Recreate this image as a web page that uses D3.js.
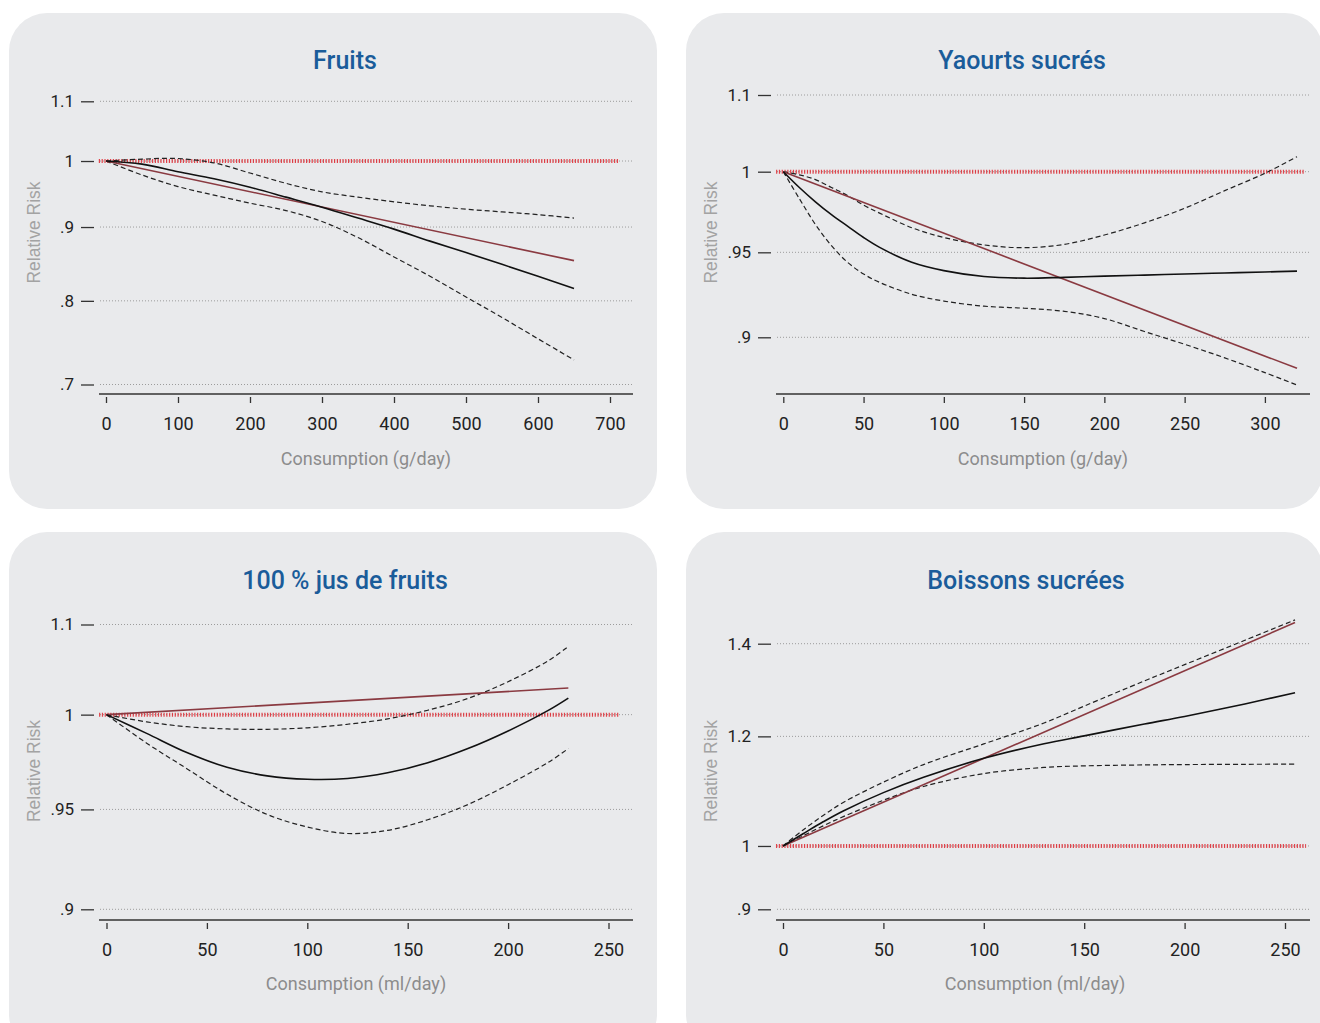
<!DOCTYPE html>
<html>
<head>
<meta charset="utf-8">
<script src="https://cdn.jsdelivr.net/npm/d3@7"></script>
<style>
  html, body { margin: 0; padding: 0; background: #ffffff; }
  svg { display: block; }
</style>
</head>
<body>
<svg id="chart" width="1320" height="1023"></svg>
<script>
// ---------------- DATA ----------------
// Fruits (g/day)
const fruitsTitle = "Fruits";
const fruitsXLabel = "Consumption (g/day)";
const fruitsX    = [0, 50, 100, 150, 200, 250, 300, 350, 400, 450, 500, 550, 600, 650];
const fruitsRR   = [1, 0.995, 0.983, 0.972, 0.959, 0.944, 0.929, 0.913, 0.897, 0.880, 0.864, 0.848, 0.832, 0.816];
const fruitsHigh = [1, 1.003, 1.004, 0.997, 0.981, 0.965, 0.952, 0.944, 0.937, 0.931, 0.926, 0.922, 0.918, 0.913];
const fruitsLow  = [1, 0.978, 0.960, 0.947, 0.935, 0.924, 0.908, 0.885, 0.858, 0.832, 0.805, 0.779, 0.753, 0.728];
const fruitsLinX = [0, 650];
const fruitsLin  = [1, 0.853];
const fruitsRefX = [-10, 712];
const fruitsXTicks = [0, 100, 200, 300, 400, 500, 600, 700];
const fruitsYTicks = [0.7, 0.8, 0.9, 1, 1.1];
const fruitsYLabels = [".7", ".8", ".9", "1", "1.1"];

// Yaourts sucrés (g/day)
const yaourtsTitle = "Yaourts sucrés";
const yaourtsXLabel = "Consumption (g/day)";
const yaourtsX    = [0, 10, 20, 30, 40, 50, 60, 80, 100, 125, 150, 175, 200, 225, 250, 275, 300, 320];
const yaourtsRR   = [1, 0.990, 0.981, 0.973, 0.966, 0.959, 0.953, 0.944, 0.939, 0.9355, 0.9345, 0.935, 0.9357, 0.9363, 0.937, 0.9376, 0.9382, 0.9387];
const yaourtsHigh = [1, 0.998, 0.995, 0.990, 0.985, 0.979, 0.974, 0.965, 0.959, 0.9545, 0.9528, 0.9548, 0.9605, 0.968, 0.977, 0.988, 0.999, 1.0096];
const yaourtsLow  = [1, 0.983, 0.967, 0.954, 0.944, 0.937, 0.932, 0.925, 0.921, 0.918, 0.9168, 0.915, 0.9108, 0.9033, 0.896, 0.8883, 0.880, 0.8731];
const yaourtsLinX = [0, 320];
const yaourtsLin  = [1, 0.8824];
const yaourtsRefX = [-4.5, 325];
const yaourtsXTicks = [0, 50, 100, 150, 200, 250, 300];
const yaourtsYTicks = [0.9, 0.95, 1, 1.05];
const yaourtsYLabels = [".9", ".95", "1", "1.1"];

// 100 % jus de fruits (ml/day)
const jusTitle = "100 % jus de fruits";
const jusXLabel = "Consumption (ml/day)";
const jusX    = [0, 20, 40, 60, 80, 100, 120, 140, 160, 180, 200, 220, 230];
const jusRR   = [1, 0.9899, 0.9797, 0.9719, 0.9674, 0.9656, 0.9660, 0.9690, 0.9743, 0.9818, 0.9912, 1.0023, 1.0090];
const jusHigh = [1, 0.9961, 0.9935, 0.9923, 0.9921, 0.9929, 0.9948, 0.9977, 1.0024, 1.0088, 1.0180, 1.0296, 1.0376];
const jusLow  = [1, 0.9847, 0.9712, 0.9579, 0.9474, 0.9410, 0.9377, 0.9393, 0.9447, 0.9525, 0.9628, 0.9745, 0.9818];
const jusLinX = [0, 230];
const jusLin  = [1, 1.0145];
const jusRefX = [-3.7, 255];
const jusXTicks = [0, 50, 100, 150, 200, 250];
const jusYTicks = [0.9, 0.95, 1, 1.05];
const jusYLabels = [".9", ".95", "1", "1.1"];

// Boissons sucrées (ml/day)
const boissonsTitle = "Boissons sucrées";
const boissonsXLabel = "Consumption (ml/day)";
const boissonsX    = [0, 10, 20, 30, 50, 70, 100, 130, 150, 180, 200, 230, 255];
const boissonsRR   = [1, 1.0205, 1.041, 1.060, 1.0928, 1.121, 1.157, 1.1855, 1.201, 1.225, 1.2405, 1.2665, 1.2904];
const boissonsHigh = [1, 1.027, 1.052, 1.075, 1.112, 1.145, 1.185, 1.227, 1.262, 1.316, 1.352, 1.408, 1.4565];
const boissonsLow  = [1, 1.017, 1.034, 1.050, 1.0790, 1.1040, 1.128, 1.1395, 1.1425, 1.1443, 1.145, 1.1455, 1.1458];
const boissonsLinX = [0, 255];
const boissonsLin  = [1, 1.4502];
const boissonsRefX = [-3.5, 260.5];
const boissonsXTicks = [0, 50, 100, 150, 200, 250];
const boissonsYTicks = [0.9, 1, 1.2, 1.4];
const boissonsYLabels = [".9", "1", "1.2", "1.4"];

// ---------------- LAYOUT ----------------
const panels = [
  { title: fruitsTitle, xLabel: fruitsXLabel, x: fruitsX, rr: fruitsRR, hi: fruitsHigh, lo: fruitsLow,
    linX: fruitsLinX, lin: fruitsLin, refX: fruitsRefX, xTicks: fruitsXTicks, yTicks: fruitsYTicks, yLabels: fruitsYLabels,
    rect: [9, 13, 648, 496], xDomain: [0, 700], xRange: [106, 610], yDomain: [0.7, 1.1], yRange: [384.5, 101.3],
    axisY: 394, left: 99, right: 633, titlePos: [345, 68.5], xTitlePos: [366, 465], rrPos: [34, 232.5] },
  { title: yaourtsTitle, xLabel: yaourtsXLabel, x: yaourtsX, rr: yaourtsRR, hi: yaourtsHigh, lo: yaourtsLow,
    linX: yaourtsLinX, lin: yaourtsLin, refX: yaourtsRefX, xTicks: yaourtsXTicks, yTicks: yaourtsYTicks, yLabels: yaourtsYLabels,
    rect: [686, 13, 637, 496], xDomain: [0, 300], xRange: [783.3, 1264.9], yDomain: [0.9, 1.05], yRange: [337.3, 95],
    axisY: 394, left: 776, right: 1310, titlePos: [1022, 68.5], xTitlePos: [1043, 465], rrPos: [711, 232.5] },
  { title: jusTitle, xLabel: jusXLabel, x: jusX, rr: jusRR, hi: jusHigh, lo: jusLow,
    linX: jusLinX, lin: jusLin, refX: jusRefX, xTicks: jusXTicks, yTicks: jusYTicks, yLabels: jusYLabels,
    rect: [9, 532, 648, 520], xDomain: [0, 250], xRange: [106.5, 608.5], yDomain: [0.9, 1.05], yRange: [909.3, 624.5],
    axisY: 920, left: 99, right: 633, titlePos: [345, 589.3], xTitlePos: [356, 990], rrPos: [34, 771] },
  { title: boissonsTitle, xLabel: boissonsXLabel, x: boissonsX, rr: boissonsRR, hi: boissonsHigh, lo: boissonsLow,
    linX: boissonsLinX, lin: boissonsLin, refX: boissonsRefX, xTicks: boissonsXTicks, yTicks: boissonsYTicks, yLabels: boissonsYLabels,
    rect: [686, 532, 637, 520], xDomain: [0, 250], xRange: [783, 1285], yDomain: [0.9, 1.4], yRange: [909.3, 643.7],
    axisY: 920, left: 776, right: 1310, titlePos: [1026, 589.3], xTitlePos: [1035, 990], rrPos: [711, 771] }
];

const NUM_FONT = "Roboto, 'DejaVu Sans', sans-serif";
const svg = d3.select("#chart");

panels.forEach(p => {
  const g = svg.append("g");
  const xS = d3.scaleLinear().domain(p.xDomain).range(p.xRange);
  const yS = d3.scaleLog().domain(p.yDomain).range(p.yRange);

  // background
  g.append("rect")
    .attr("x", p.rect[0]).attr("y", p.rect[1])
    .attr("width", p.rect[2]).attr("height", p.rect[3])
    .attr("rx", 38).attr("ry", 38)
    .attr("fill", "#e9eaec");

  // title
  g.append("text")
    .attr("x", p.titlePos[0]).attr("y", p.titlePos[1])
    .attr("text-anchor", "middle")
    .style("font-family", NUM_FONT).style("font-weight", 500).style("font-size", "25px")
    .attr("fill", "#1a5c9a")
    .text(p.title);

  // gridlines
  g.selectAll(".grid").data(p.yTicks).enter().append("line")
    .attr("x1", p.left + 1).attr("x2", p.right + 1)
    .attr("y1", d => yS(d)).attr("y2", d => yS(d))
    .attr("stroke", "#9c9c9c").attr("stroke-width", 1)
    .attr("stroke-dasharray", "1,2");

  // y axis
  const yAxis = d3.axisLeft(yS).tickValues(p.yTicks)
    .tickFormat((d, i) => p.yLabels[i]).tickSize(13).tickPadding(7);
  const ya = g.append("g").attr("transform", `translate(${p.left - 5},0)`).call(yAxis);
  ya.select(".domain").remove();
  ya.selectAll(".tick line").attr("stroke", "#333").attr("stroke-width", 1.3);
  ya.selectAll(".tick text").attr("fill", "#222")
    .style("font-family", NUM_FONT).style("font-size", "17px");

  // x axis
  g.append("line")
    .attr("x1", p.left).attr("x2", p.right)
    .attr("y1", p.axisY).attr("y2", p.axisY)
    .attr("stroke", "#333").attr("stroke-width", 1.5);
  const xAxis = d3.axisBottom(xS).tickValues(p.xTicks).tickSize(6).tickFormat(d3.format("d"));
  const xa = g.append("g").attr("transform", `translate(0,${p.axisY + 3})`).call(xAxis);
  xa.select(".domain").remove();
  xa.selectAll(".tick line").attr("stroke", "#333").attr("stroke-width", 1.3);
  xa.selectAll(".tick text").attr("y", 33).attr("dy", 0).attr("fill", "#222")
    .style("font-family", NUM_FONT).style("font-size", "18px");

  // axis titles
  g.append("text")
    .attr("x", p.xTitlePos[0]).attr("y", p.xTitlePos[1])
    .attr("text-anchor", "middle")
    .style("font-family", NUM_FONT).style("font-size", "18px")
    .attr("fill", "#8c8c8c")
    .text(p.xLabel);
  g.append("text")
    .attr("transform", `translate(${p.rrPos[0]},${p.rrPos[1]}) rotate(-90)`)
    .attr("text-anchor", "middle").attr("dy", "0.35em")
    .style("font-family", "'Liberation Sans', Arial, sans-serif").style("font-size", "17.5px")
    .attr("fill", "#a3a3a3")
    .text("Relative Risk");

  // reference line RR = 1
  g.append("line")
    .attr("x1", xS(p.refX[0])).attr("x2", xS(p.refX[1]))
    .attr("y1", yS(1)).attr("y2", yS(1))
    .attr("stroke", "#e0262e").attr("stroke-width", 4)
    .attr("stroke-dasharray", "1.2,1.6").attr("opacity", 0.85);

  const line = d3.line()
    .x(d => xS(d[0])).y(d => yS(d[1]))
    .curve(d3.curveCatmullRom.alpha(0.5));

  const zip = (xs, ys) => xs.map((v, i) => [v, ys[i]]);

  // confidence limits
  [p.hi, p.lo].forEach(arr => {
    g.append("path").datum(zip(p.x, arr))
      .attr("d", line).attr("fill", "none")
      .attr("stroke", "#222").attr("stroke-width", 1.2)
      .attr("stroke-dasharray", "5,3");
  });
  // linear model
  g.append("path").datum(zip(p.linX, p.lin))
    .attr("d", d3.line().x(d => xS(d[0])).y(d => yS(d[1])))
    .attr("fill", "none").attr("stroke", "#8a3a41").attr("stroke-width", 1.6);
  // spline estimate
  g.append("path").datum(zip(p.x, p.rr))
    .attr("d", line).attr("fill", "none")
    .attr("stroke", "#111").attr("stroke-width", 1.6);
});
</script>
</body>
</html>
